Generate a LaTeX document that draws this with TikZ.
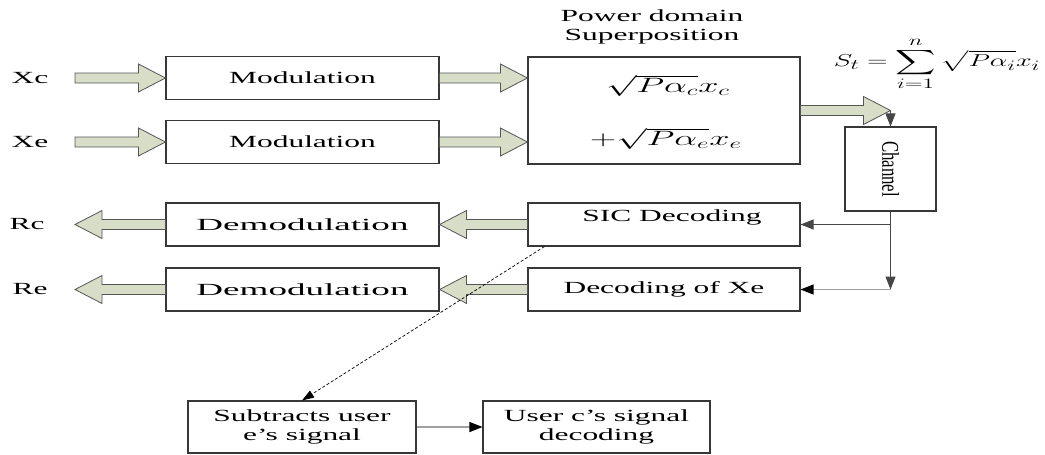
\documentclass[tikz,border=0pt]{standalone}
\usepackage{exscale}
\usepackage{fontspec}
\usepackage{graphicx}
\setmainfont{Liberation Serif}
\newfontfamily\wfam[FakeStretch=1.85]{Liberation Serif}
\newfontfamily\dfam[FakeStretch=2.18]{Liberation Serif}
\newcommand\tf{\fontsize{17}{19}\selectfont\wfam}
\newcommand\df{\fontsize{17}{19}\selectfont\dfam}
\usetikzlibrary{calc,arrows.meta}
\definecolor{fatfill}{RGB}{216,221,200}
\definecolor{fatline}{RGB}{85,85,85}
\definecolor{boxline}{RGB}{55,55,55}
\definecolor{darkln}{RGB}{70,70,70}
\definecolor{lightln}{RGB}{160,160,160}
\tikzset{
  box/.style={draw=boxline, line width=1.1pt, minimum width=273pt, minimum height=43pt, inner sep=0pt, font=\tf},
  lbl/.style={font=\tf, inner sep=0pt},
  fatarr/.style={draw=fatline, fill=fatfill, line width=0.8pt, line join=miter},
  darkconn/.style={draw=darkln, line width=1pt, -{Triangle[length=13pt,width=10pt]}},
  lightconn/.style={draw=lightln, line width=1.2pt, -{Triangle[length=13pt,width=10pt,color=black]}},
  dashconn/.style={draw=black, line width=0.7pt, dash pattern=on 3pt off 2pt, -{Triangle[length=12pt,width=8pt]}},
}
\newcommand\fatarrow[2]{%
  \draw[fatarr] let \p1=#1, \p2=#2, \n1={sign(\x2-\x1)} in
   (\x1,{\y1+5pt}) -- ({\x2-\n1*27pt},{\y1+5pt}) -- ({\x2-\n1*27pt},{\y1+14pt}) -- (\x2,\y1)
   -- ({\x2-\n1*27pt},{\y1-14pt}) -- ({\x2-\n1*27pt},{\y1-5pt}) -- (\x1,{\y1-5pt}) -- cycle;}
\begin{document}
\begin{tikzpicture}[x=1pt,y=-1pt]
\useasboundingbox (0,0) rectangle (1045,455);
% labels
\node[lbl] (xc) at (30,78) {Xc};
\node[lbl] (xe) at (30,142) {Xe};
\node[lbl] (rc) at (27,224.5) {Rc};
\node[lbl] (re) at (30,289.5) {Re};
\coordinate (xcin) at (75,78);
\coordinate (xein) at (75,142);
\coordinate (rcout) at (75,224.5);
\coordinate (reout) at (75,289.5);
% boxes
\node[box] (mod1) at (302.5,78) {Modulation};
\node[box] (mod2) at (302.5,142) {Modulation};
\node[box, minimum width=272pt, minimum height=107pt] (sup) at (664,110.5) {};
\node[lbl, align=center] (suplbl) at (652,27) {Power domain\\Superposition};
\node[inner sep=0pt] (m1) at (668,86) {\fontsize{22}{22}\selectfont\scalebox{1.75}[1]{$\sqrt{P\alpha_c}x_c$}};
\node[inner sep=0pt] (m2) at (666,139) {\fontsize{22}{22}\selectfont\scalebox{1.75}[1]{$+\sqrt{P\alpha_e}x_e$}};
\node[inner sep=0pt] (st) at (937,64) {\fontsize{19}{19}\selectfont\scalebox{1.62}[1]{$\displaystyle S_t=\sum\limits_{i=1}^{n}\sqrt{P\alpha_i}x_i$}};
\node[box, minimum width=91pt, minimum height=84pt] (chan) at (890.5,169) {};
\node[inner sep=0pt, rotate=-90] (chanlbl) at (chan.center) {\fontsize{24}{24}\selectfont\scalebox{0.7}[1]{Channel}};
\node[box, minimum width=272pt] (sic) at (664,224.5) {};
\node[lbl] (siclbl) at (672,217) {SIC Decoding};
\node[box, minimum width=272pt] (decx) at (664,289.5) {Decoding of Xe};
\node[box, font=\df] (dem1) at (302.5,224.5) {Demodulation};
\node[box, font=\df] (dem2) at (302.5,289.5) {Demodulation};
\node[box, minimum width=228pt, minimum height=52pt, align=center] (sub) at (302,427) {Subtracts user\\e’s signal};
\node[box, minimum width=227pt, minimum height=52pt, align=center] (usr) at (596.5,427) {User c’s signal\\decoding};
% fat arrows
\fatarrow{(xcin)}{(mod1.west)}
\fatarrow{(xein)}{(mod2.west)}
\fatarrow{(mod1.east)}{(sup.west |- mod1.east)}
\fatarrow{(mod2.east)}{(sup.west |- mod2.east)}
\coordinate (chin) at (chan.north |- sup.east);
\fatarrow{(sup.east)}{(chin)}
\fatarrow{(sic.west)}{(dem1.east)}
\fatarrow{(decx.west)}{(dem2.east)}
\fatarrow{(dem1.west)}{(rcout)}
\fatarrow{(dem2.west)}{(reout)}
% thin connectors
\draw[darkconn] (chin) -- (chan.north);
\coordinate (cbr) at (chan.south |- sic.east);
\coordinate (cbot) at (chan.south |- decx.east);
\draw[darkconn] (chan.south) -- (cbot);
\draw[darkconn] (cbr) -- (sic.east);
\draw[lightconn] (cbot) -- (decx.east);
\draw[dashconn] ($(sic.south west)+(17,0)$) -- (sub.north);
\draw[lightconn] (sub.east) -- (usr.west);
\end{tikzpicture}
\end{document}
